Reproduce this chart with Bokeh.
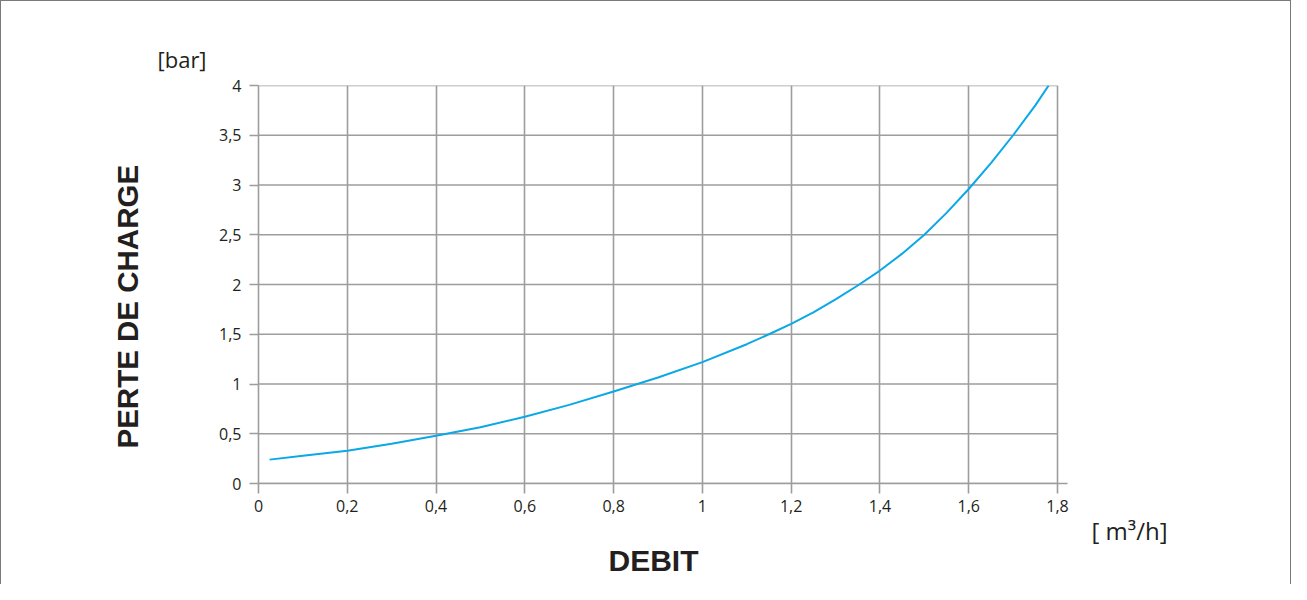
from bokeh.plotting import figure
from bokeh.models import Range1d, FixedTicker, Title
from bokeh.embed import file_html
from bokeh.resources import INLINE

# ---- data ----
debit = [0.025, 0.1, 0.2, 0.3, 0.4, 0.5, 0.6, 0.7, 0.8, 0.9, 1.0, 1.1, 1.15, 1.2, 1.25,
         1.3, 1.35, 1.4, 1.45, 1.5, 1.55, 1.6, 1.65, 1.7, 1.75, 1.78]
perte = [0.24, 0.28, 0.33, 0.40, 0.48, 0.565, 0.67, 0.79, 0.925, 1.065, 1.22, 1.40, 1.50, 1.605, 1.72,
         1.85, 1.99, 2.14, 2.31, 2.50, 2.72, 2.96, 3.22, 3.50, 3.80, 4.0]

x_ticks = [0, 0.2, 0.4, 0.6, 0.8, 1.0, 1.2, 1.4, 1.6, 1.8]
x_labels = ["0", "0,2", "0,4", "0,6", "0,8", "1", "1,2", "1,4", "1,6", "1,8"]
y_ticks = [0, 0.5, 1, 1.5, 2, 2.5, 3, 3.5, 4]
y_labels = ["0", "0,5", "1", "1,5", "2", "2,5", "3", "3,5", "4"]

GRID = "#9d9d9d"
TXT = "#231f20"
CURVE = "#0aa8e6"

p = figure(width=1291, height=584, output_backend="svg", toolbar_location=None,
           x_range=Range1d(0, 1.8225), y_range=Range1d(0, 4),
           min_border_left=257, min_border_right=225, min_border_top=84, min_border_bottom=102)
p.styles = {"border-top": "1px solid #7a7a7a", "border-left": "1px solid #7a7a7a",
            "border-right": "1px solid #7a7a7a"}
p.outline_line_color = None
p.background_fill_color = "white"
p.border_fill_color = "white"

for ax, ticks, labels in ((p.xaxis, x_ticks, x_labels), (p.yaxis, y_ticks, y_labels)):
    ax.ticker = FixedTicker(ticks=ticks)
    ax.major_label_overrides = {t: l for t, l in zip(ticks, labels)}
    ax.axis_line_color = GRID
    ax.axis_line_width = 1.6
    ax.major_tick_line_color = GRID
    ax.major_tick_line_width = 1.6
    ax.major_tick_in = 0
    ax.minor_tick_line_color = None
    ax.major_label_text_font = "Open Sans"
    ax.major_label_text_font_size = "16px"
    ax.major_label_text_color = TXT

p.xaxis.major_tick_out = 10
p.xaxis.major_label_standoff = 6
p.yaxis.major_tick_out = 9
p.yaxis.major_label_standoff = 8

p.xgrid.ticker = FixedTicker(ticks=x_ticks)
p.xgrid.grid_line_color = GRID
p.xgrid.grid_line_width = 1.6
p.ygrid.grid_line_color = None

# horizontal grid lines limited to the last x tick
p.segment(x0=[x_ticks[0]] * len(y_ticks), x1=[x_ticks[-1]] * len(y_ticks),
          y0=y_ticks, y1=y_ticks, line_color=GRID, line_width=1.6)

p.line(debit, perte, line_color=CURVE, line_width=2)

p.add_layout(Title(text="PERTE DE CHARGE", align="left", offset=35, standoff=146,
                   text_font="Liberation Sans", text_font_style="bold",
                   text_font_size="29.5px", text_color=TXT), "left")
p.add_layout(Title(text="[bar]", align="left", offset=-101, standoff=23,
                   text_font="Open Sans", text_font_style="normal",
                   text_font_size="22px", text_color=TXT), "above")
p.add_layout(Title(text="[ m³/h]", align="right", offset=-100, standoff=-5,
                   text_font="Open Sans", text_font_style="normal",
                   text_font_size="24px", text_color=TXT), "below")
p.add_layout(Title(text="DEBIT", align="left", offset=350, standoff=-6,
                   text_font="Liberation Sans", text_font_style="bold",
                   text_font_size="30px", text_color=TXT), "below")

open("out.html", "w").write(file_html(p, INLINE))
